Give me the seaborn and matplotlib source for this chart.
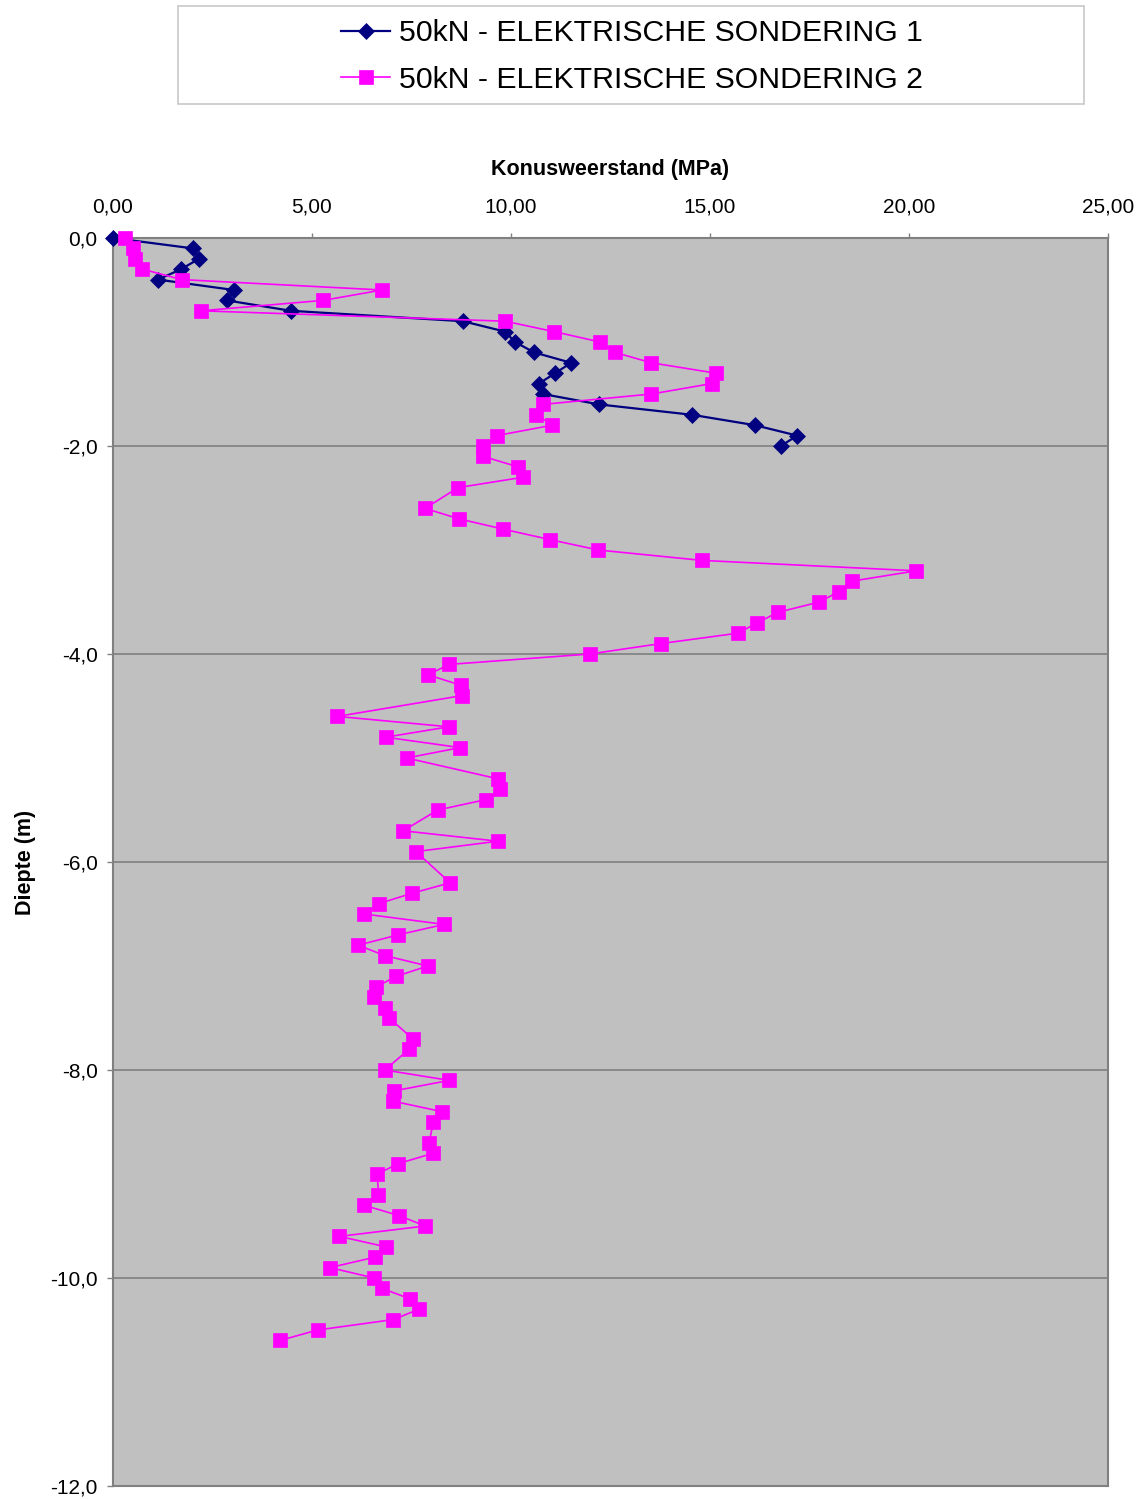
import matplotlib
matplotlib.use("Agg")
import matplotlib.pyplot as plt
from matplotlib.ticker import FuncFormatter
from matplotlib.patches import Rectangle
from matplotlib.lines import Line2D
import seaborn as sns
import pandas as pd

# Sondering 1: depth (m, negative downwards) and cone resistance (MPa)
diepte_1 = [0.0, -0.1, -0.2, -0.3, -0.4, -0.5, -0.6, -0.7, -0.8, -0.9, -1.0,
            -1.1, -1.2, -1.3, -1.4, -1.5, -1.6, -1.7, -1.8, -1.9, -2.0]
qc_1 = [0.00, 2.01, 2.16, 1.71, 1.13, 3.04, 2.86, 4.47, 8.79, 9.85, 10.10,
        10.58, 11.51, 11.11, 10.70, 10.80, 12.21, 14.55, 16.13, 17.19, 16.78]

# Sondering 2
diepte_2 = [0.0, -0.1, -0.2, -0.3, -0.4, -0.5, -0.6, -0.7, -0.8, -0.9, -1.0,
            -1.1, -1.2, -1.3, -1.4, -1.5, -1.6, -1.7, -1.8, -1.9, -2.0,
            -2.1, -2.2, -2.3, -2.4, -2.6, -2.7, -2.8, -2.9, -3.0,
            -3.1, -3.2, -3.3, -3.4, -3.5, -3.6, -3.7, -3.8, -3.9, -4.0,
            -4.1, -4.2, -4.3, -4.4, -4.6, -4.7, -4.8, -4.9, -5.0,
            -5.2, -5.3, -5.4, -5.5, -5.7, -5.8, -5.9,
            -6.2, -6.3, -6.4, -6.5, -6.6, -6.7, -6.8, -6.9, -7.0,
            -7.1, -7.2, -7.3, -7.4, -7.5, -7.7, -7.8, -8.0,
            -8.1, -8.2, -8.3, -8.4, -8.5, -8.7, -8.8, -8.9, -9.0,
            -9.2, -9.3, -9.4, -9.5, -9.6, -9.7, -9.8, -9.9, -10.0,
            -10.1, -10.2, -10.3, -10.4, -10.5, -10.6]
qc_2 = [0.30, 0.51, 0.55, 0.74, 1.73, 6.76, 5.28, 2.21, 9.85, 11.08, 12.24,
        12.61, 13.53, 15.15, 15.04, 13.53, 10.80, 10.64, 11.04, 9.64, 9.30,
        9.30, 10.17, 10.31, 8.67, 7.84, 8.69, 9.81, 10.98, 12.19,
        14.80, 20.18, 18.56, 18.24, 17.75, 16.70, 16.19, 15.70, 13.76, 11.98,
        8.45, 7.91, 8.74, 8.77, 5.64, 8.44, 6.85, 8.72, 7.38,
        9.67, 9.72, 9.37, 8.16, 7.29, 9.67, 7.61,
        8.47, 7.52, 6.68, 6.31, 8.32, 7.17, 6.16, 6.83, 7.91,
        7.11, 6.62, 6.56, 6.83, 6.94, 7.53, 7.44, 6.83,
        8.45, 7.07, 7.04, 8.26, 8.05, 7.94, 8.05, 7.17, 6.64,
        6.67, 6.30, 7.19, 7.84, 5.69, 6.85, 6.58, 5.45, 6.56,
        6.76, 7.46, 7.69, 7.04, 5.14, 4.20]

labels = ["50kN - ELEKTRISCHE SONDERING 1", "50kN - ELEKTRISCHE SONDERING 2"]
x_ticks = [0, 5, 10, 15, 20, 25]
y_ticks = [0, -2, -4, -6, -8, -10, -12]

plt.rcParams["font.family"] = ["Liberation Sans", "DejaVu Sans"]

W, H = 1146, 1499
fig = plt.figure(figsize=(W / 100, H / 100), dpi=100)
fig.patch.set_facecolor("white")
ax = fig.add_axes([113 / W, 1 - 1486 / H, (1108 - 113) / W, (1486 - 238) / H])
ax.set_facecolor("#C0C0C0")

df1 = pd.DataFrame({"qc": qc_1, "diepte": diepte_1})
df2 = pd.DataFrame({"qc": qc_2, "diepte": diepte_2})

navy = "#000080"
magenta = "#FF00FF"
style_1 = dict(color=navy, linewidth=1.6, marker="D", markersize=8,
               markeredgecolor=navy, markerfacecolor=navy, markeredgewidth=0.5)
style_2 = dict(color=magenta, linewidth=1.2, marker="s", markersize=9.5,
               markeredgecolor=magenta, markerfacecolor=magenta, markeredgewidth=0.5)

sns.lineplot(data=df1, x="qc", y="diepte", sort=False, estimator=None, ax=ax,
             clip_on=False, zorder=3, legend=False, **style_1)
sns.lineplot(data=df2, x="qc", y="diepte", sort=False, estimator=None, ax=ax,
             clip_on=False, zorder=4, legend=False, **style_2)

ax.set_xlim(0, 25)
ax.set_ylim(-12, 0)
ax.set_xticks(x_ticks)
ax.set_yticks(y_ticks)
ax.xaxis.tick_top()
ax.xaxis.set_label_position("top")
ax.xaxis.set_major_formatter(FuncFormatter(lambda v, p: f"{v:.2f}".replace(".", ",")))
ax.yaxis.set_major_formatter(FuncFormatter(lambda v, p: f"{v + 0.0:.1f}".replace(".", ",")))
ax.tick_params(axis="x", direction="out", length=3.5, width=1, color="#808080",
               labelsize=15, pad=12, labelcolor="black")
ax.tick_params(axis="y", direction="out", length=4, width=1, color="#808080",
               labelsize=15, pad=7, labelcolor="black")

ax.grid(axis="y", color="#808080", linewidth=1.2)
ax.grid(axis="x", visible=False)
ax.set_axisbelow(True)
for side, sp in ax.spines.items():
    sp.set_color("#808080")
    sp.set_linewidth(1.5)

ax.set_xlabel("Konusweerstand (MPa)", fontsize=15.5, fontweight="bold", labelpad=16)
ax.set_ylabel("Diepte (m)", fontsize=15.5, fontweight="bold", labelpad=10)

# legend box at the top of the figure
fig.patches.append(Rectangle((178 / W, 1 - 104 / H), (1084 - 178) / W, 98 / H,
                             transform=fig.transFigure, facecolor="white",
                             edgecolor="#C8C8C8", linewidth=1.2, zorder=0))
handles = [Line2D([], [], **style_1), Line2D([], [], **style_2)]
fig.legend(handles, labels, loc="center", bbox_to_anchor=(632 / W, 1 - 56.5 / H),
           frameon=False, fontsize=21.8, handlelength=1.6, handletextpad=0.3,
           labelspacing=0.6, borderpad=0)

fig.savefig("out.png", dpi=100)
